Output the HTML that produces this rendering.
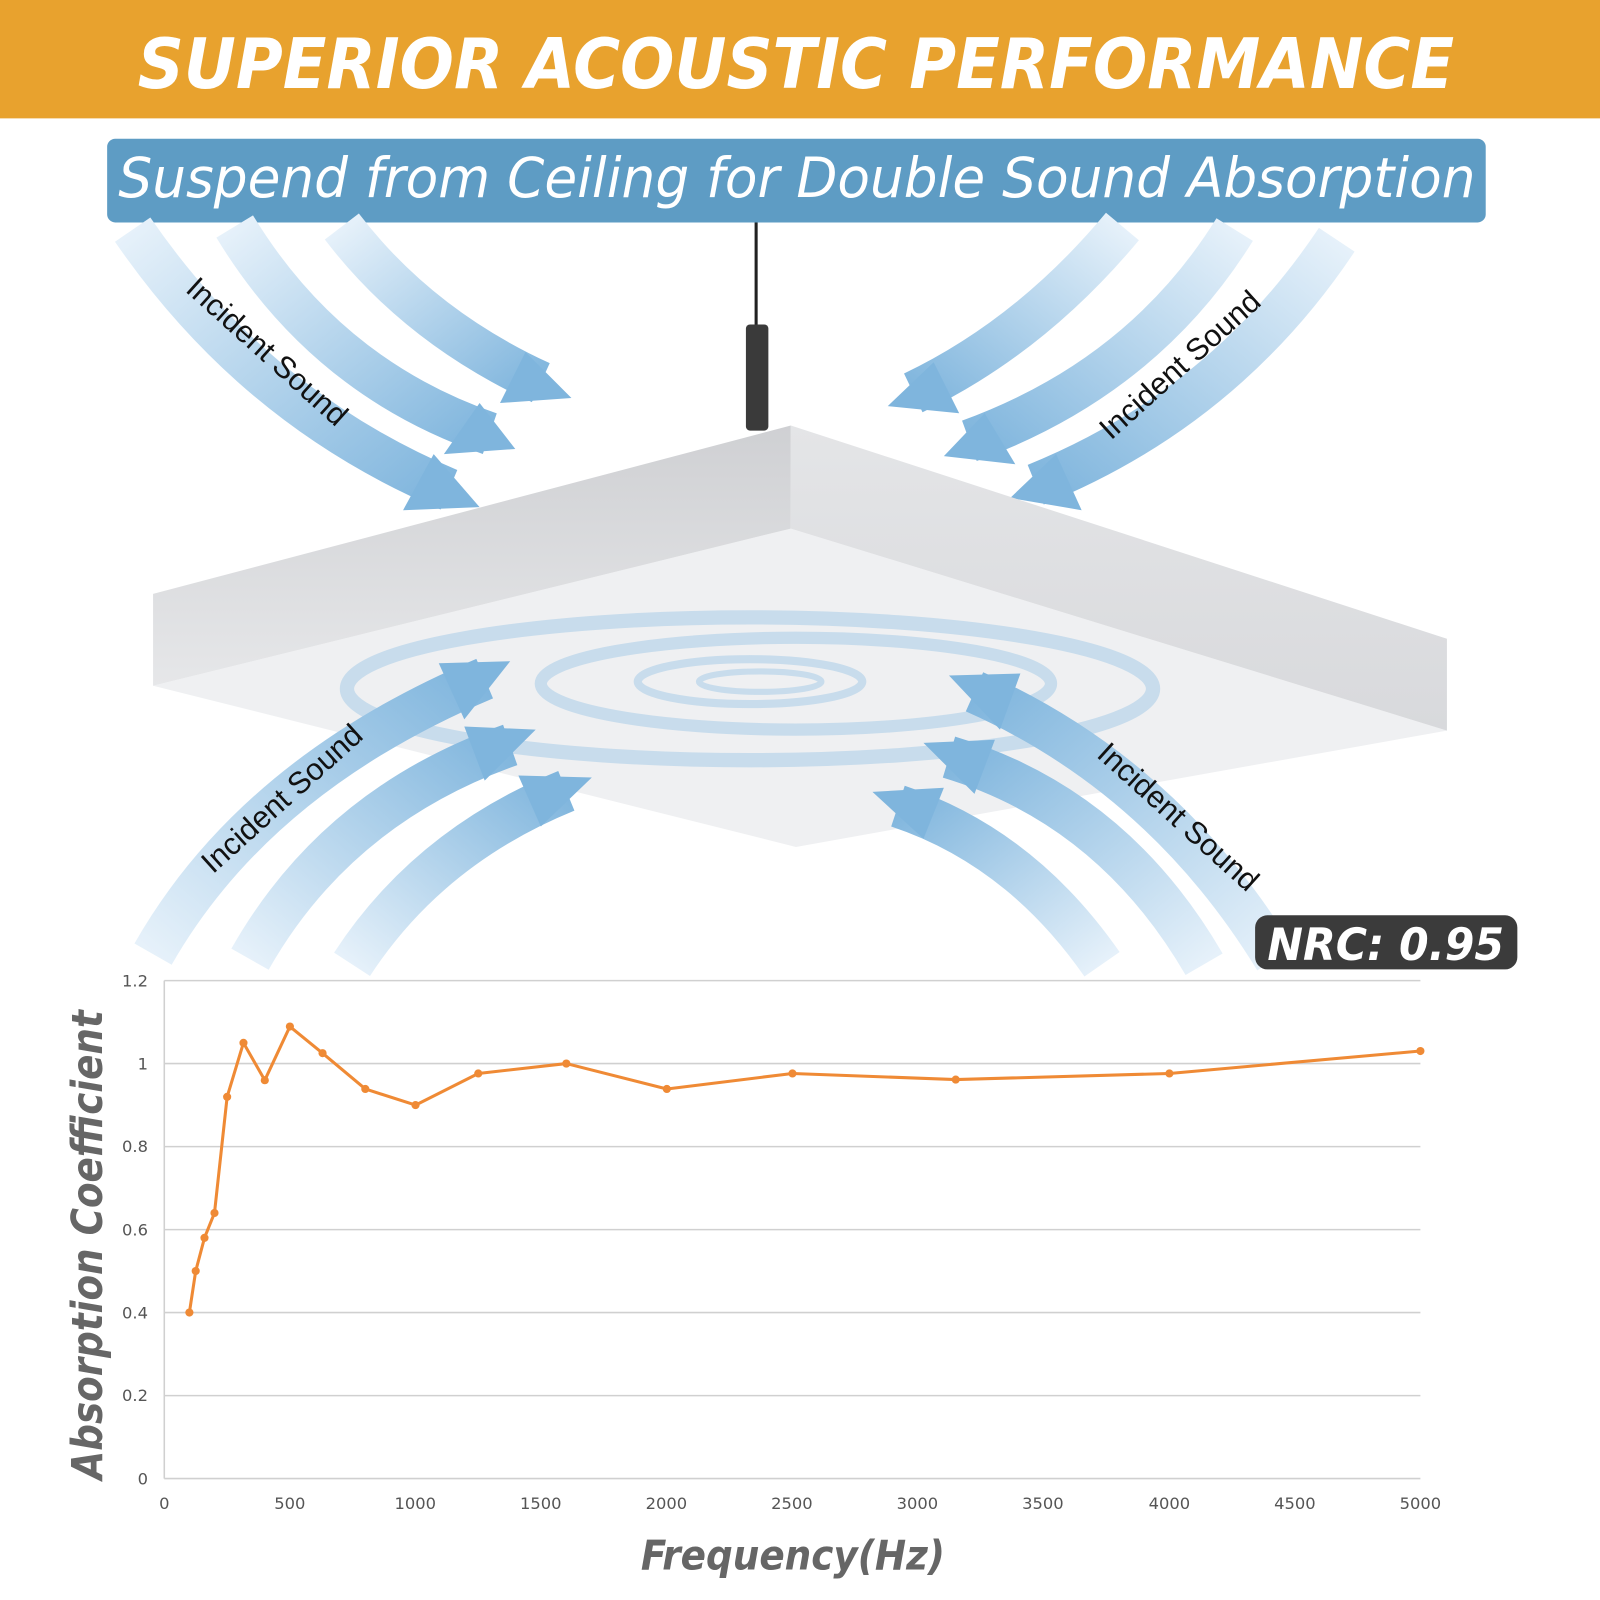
<!DOCTYPE html>
<html><head><meta charset="utf-8"><style>
html,body{margin:0;padding:0;background:#fff}
svg{display:block}
</style></head><body>
<svg width="1600" height="1600" viewBox="0 0 1568 1568" xmlns="http://www.w3.org/2000/svg" font-family="Liberation Sans, sans-serif">
<defs>
<linearGradient id="aTL" x1="0" y1="0" x2="1" y2="1"><stop offset="0" stop-color="#e6f1fa"/><stop offset="1" stop-color="#7fb5dd"/></linearGradient>
<linearGradient id="aTR" x1="1" y1="0" x2="0" y2="1"><stop offset="0" stop-color="#e6f1fa"/><stop offset="1" stop-color="#7fb5dd"/></linearGradient>
<linearGradient id="aBL" x1="0" y1="1" x2="1" y2="0"><stop offset="0" stop-color="#e6f1fa"/><stop offset="1" stop-color="#7fb5dd"/></linearGradient>
<linearGradient id="aBR" x1="1" y1="1" x2="0" y2="0"><stop offset="0" stop-color="#e6f1fa"/><stop offset="1" stop-color="#7fb5dd"/></linearGradient>
<linearGradient id="sideL" x1="0" y1="0" x2="0" y2="1"><stop offset="0" stop-color="#cfd0d3"/><stop offset="1" stop-color="#e6e7e9"/></linearGradient>
<linearGradient id="sideR" x1="0" y1="0" x2="0" y2="1"><stop offset="0" stop-color="#e4e5e7"/><stop offset="1" stop-color="#d8d9dc"/></linearGradient>
</defs>
<rect x="0" y="0" width="1568" height="116" fill="#e8a22e"/>
<text x="780" y="86" text-anchor="middle" font-family="DejaVu Sans, sans-serif" font-size="68" font-weight="bold" font-style="italic" fill="#fff" textLength="1290" lengthAdjust="spacingAndGlyphs">SUPERIOR ACOUSTIC PERFORMANCE</text>
<rect x="105" y="136" width="1351" height="82" rx="8" fill="#5e9cc4"/>
<text x="781" y="193" text-anchor="middle" font-family="DejaVu Sans, sans-serif" font-size="54" font-style="italic" fill="#fff" textLength="1330" lengthAdjust="spacingAndGlyphs">Suspend from Ceiling for Double Sound Absorption</text>

<!-- arrows top -->
<g fill="none" stroke-width="42" stroke-linecap="butt">
<path d="M130,225 Q250,400 440,480" stroke="url(#aTL)"/>
<path d="M230,222 Q320,370 480,425" stroke="url(#aTL)"/>
<path d="M335,222 Q410,320 530,375" stroke="url(#aTL)"/>
<path d="M1310,235 Q1200,400 1015,475" stroke="url(#aTR)"/>
<path d="M1210,225 Q1120,370 950,432" stroke="url(#aTR)"/>
<path d="M1100,222 Q1010,330 895,385" stroke="url(#aTR)"/>
</g>
<g fill="#7fb5dd">
<polygon points="470,497 395,500 425,445"/>
<polygon points="505,440 435,445 470,395"/>
<polygon points="560,390 490,395 515,345"/>
<polygon points="990,488 1060,500 1035,445"/>
<polygon points="925,447 995,455 965,405"/>
<polygon points="870,398 940,405 915,355"/>
</g>

<!-- cable -->
<line x1="741" y1="218" x2="741" y2="325" stroke="#222" stroke-width="3"/>
<rect x="731" y="318" width="22" height="104" rx="4" fill="#3a3a3a"/>
<!-- panel -->
<polygon points="150,672 775,518 1418,716 780,830" fill="#eff0f2"/>
<polygon points="150,582 775,417 775,518 150,672" fill="url(#sideL)"/>
<polygon points="775,417 1418,626 1418,716 775,518" fill="url(#sideR)"/>
<g fill="none" stroke="#a8cce8" stroke-opacity="0.55">
<ellipse cx="735" cy="675" rx="395" ry="70" stroke-width="14"/>
<ellipse cx="780" cy="670" rx="250" ry="45" stroke-width="12"/>
<ellipse cx="735" cy="668" rx="110" ry="22" stroke-width="8"/>
<ellipse cx="745" cy="668" rx="60" ry="10" stroke-width="6"/>
</g>

<!-- arrows bottom -->
<g fill="none" stroke-width="42" stroke-linecap="butt">
<path d="M150,935 Q250,760 475,665" stroke="url(#aBL)"/>
<path d="M245,940 Q330,790 500,730" stroke="url(#aBL)"/>
<path d="M345,945 Q420,830 555,775" stroke="url(#aBL)"/>
<path d="M1250,940 Q1140,760 955,678" stroke="url(#aBR)"/>
<path d="M1180,945 Q1090,790 930,742" stroke="url(#aBR)"/>
<path d="M1080,945 Q1000,830 880,790" stroke="url(#aBR)"/>
</g>
<g fill="#7fb5dd">
<polygon points="500,648 455,705 430,650"/>
<polygon points="525,715 475,765 455,712"/>
<polygon points="580,762 530,810 508,760"/>
<polygon points="930,662 980,715 1000,660"/>
<polygon points="905,728 955,778 975,725"/>
<polygon points="855,776 905,822 925,772"/>
</g>

<g font-size="30" fill="#111">
<text transform="translate(255,352) rotate(42)" text-anchor="middle">Incident Sound</text>
<text transform="translate(1163,365) rotate(-42)" text-anchor="middle">Incident Sound</text>
<text transform="translate(283,790) rotate(-42)" text-anchor="middle">Incident Sound</text>
<text transform="translate(1148,808) rotate(42)" text-anchor="middle">Incident Sound</text>
</g>

<rect x="1230" y="897" width="257" height="53" rx="12" fill="#3b3b3b"/>
<text x="1358" y="941" text-anchor="middle" font-family="DejaVu Sans, sans-serif" font-size="44" font-weight="bold" font-style="italic" fill="#fff" textLength="232" lengthAdjust="spacingAndGlyphs">NRC: 0.95</text>

<!-- chart -->
<g stroke="#d0d0d0" stroke-width="1.5">
<line x1="161" y1="961" x2="1392" y2="961"/>
<line x1="161" y1="1042.3" x2="1392" y2="1042.3"/>
<line x1="161" y1="1123.7" x2="1392" y2="1123.7"/>
<line x1="161" y1="1205" x2="1392" y2="1205"/>
<line x1="161" y1="1286.3" x2="1392" y2="1286.3"/>
<line x1="161" y1="1367.7" x2="1392" y2="1367.7"/>
<line x1="161" y1="1449" x2="1392" y2="1449"/>
<line x1="161" y1="961" x2="161" y2="1449"/>
</g>
<g font-size="16" fill="#555" text-anchor="end" font-family="DejaVu Sans, sans-serif">
<text x="145" y="967">1.2</text><text x="145" y="1048">1</text><text x="145" y="1129">0.8</text>
<text x="145" y="1211">0.6</text><text x="145" y="1292">0.4</text><text x="145" y="1373">0.2</text><text x="145" y="1455">0</text>
</g>
<g font-size="16" fill="#555" text-anchor="middle" font-family="DejaVu Sans, sans-serif">
<text x="161" y="1479">0</text><text x="284" y="1479">500</text><text x="407" y="1479">1000</text><text x="530" y="1479">1500</text>
<text x="653" y="1479">2000</text><text x="776" y="1479">2500</text><text x="899" y="1479">3000</text><text x="1022" y="1479">3500</text>
<text x="1146" y="1479">4000</text><text x="1269" y="1479">4500</text><text x="1392" y="1479">5000</text>
</g>
<polyline fill="none" stroke="#ef8a35" stroke-width="3" stroke-linejoin="round" points="185.6,1286.3 191.8,1245.6 200.4,1213.1 210.2,1188.7 222.6,1074.9 238.6,1022 259.5,1058.6 284.1,1006 316.1,1032.1 358,1067.2 407.2,1083 468.7,1052 555,1042.3 653.5,1067.2 776.6,1052 936.6,1058 1146,1052 1392,1030"/>
<g fill="#ef8a35">
<circle cx="185.6" cy="1286.3" r="4"/><circle cx="191.8" cy="1245.6" r="4"/><circle cx="200.4" cy="1213.1" r="4"/><circle cx="210.2" cy="1188.7" r="4"/><circle cx="222.6" cy="1074.9" r="4"/><circle cx="238.6" cy="1022" r="4"/><circle cx="259.5" cy="1058.6" r="4"/><circle cx="284.1" cy="1006" r="4"/><circle cx="316.1" cy="1032.1" r="4"/><circle cx="358" cy="1067.2" r="4"/><circle cx="407.2" cy="1083" r="4"/><circle cx="468.7" cy="1052" r="4"/><circle cx="555" cy="1042.3" r="4"/><circle cx="653.5" cy="1067.2" r="4"/><circle cx="776.6" cy="1052" r="4"/><circle cx="936.6" cy="1058" r="4"/><circle cx="1146" cy="1052" r="4"/><circle cx="1392" cy="1030" r="4"/>
</g>
<text transform="translate(100,1220) rotate(-90)" text-anchor="middle" font-family="DejaVu Sans, sans-serif" font-size="42" font-weight="bold" font-style="italic" fill="#666" textLength="460" lengthAdjust="spacingAndGlyphs">Absorption Coefficient</text>
<text x="777" y="1538" text-anchor="middle" font-family="DejaVu Sans, sans-serif" font-size="40" font-weight="bold" font-style="italic" fill="#666" textLength="298" lengthAdjust="spacingAndGlyphs">Frequency(Hz)</text>
</svg>
</body></html>
